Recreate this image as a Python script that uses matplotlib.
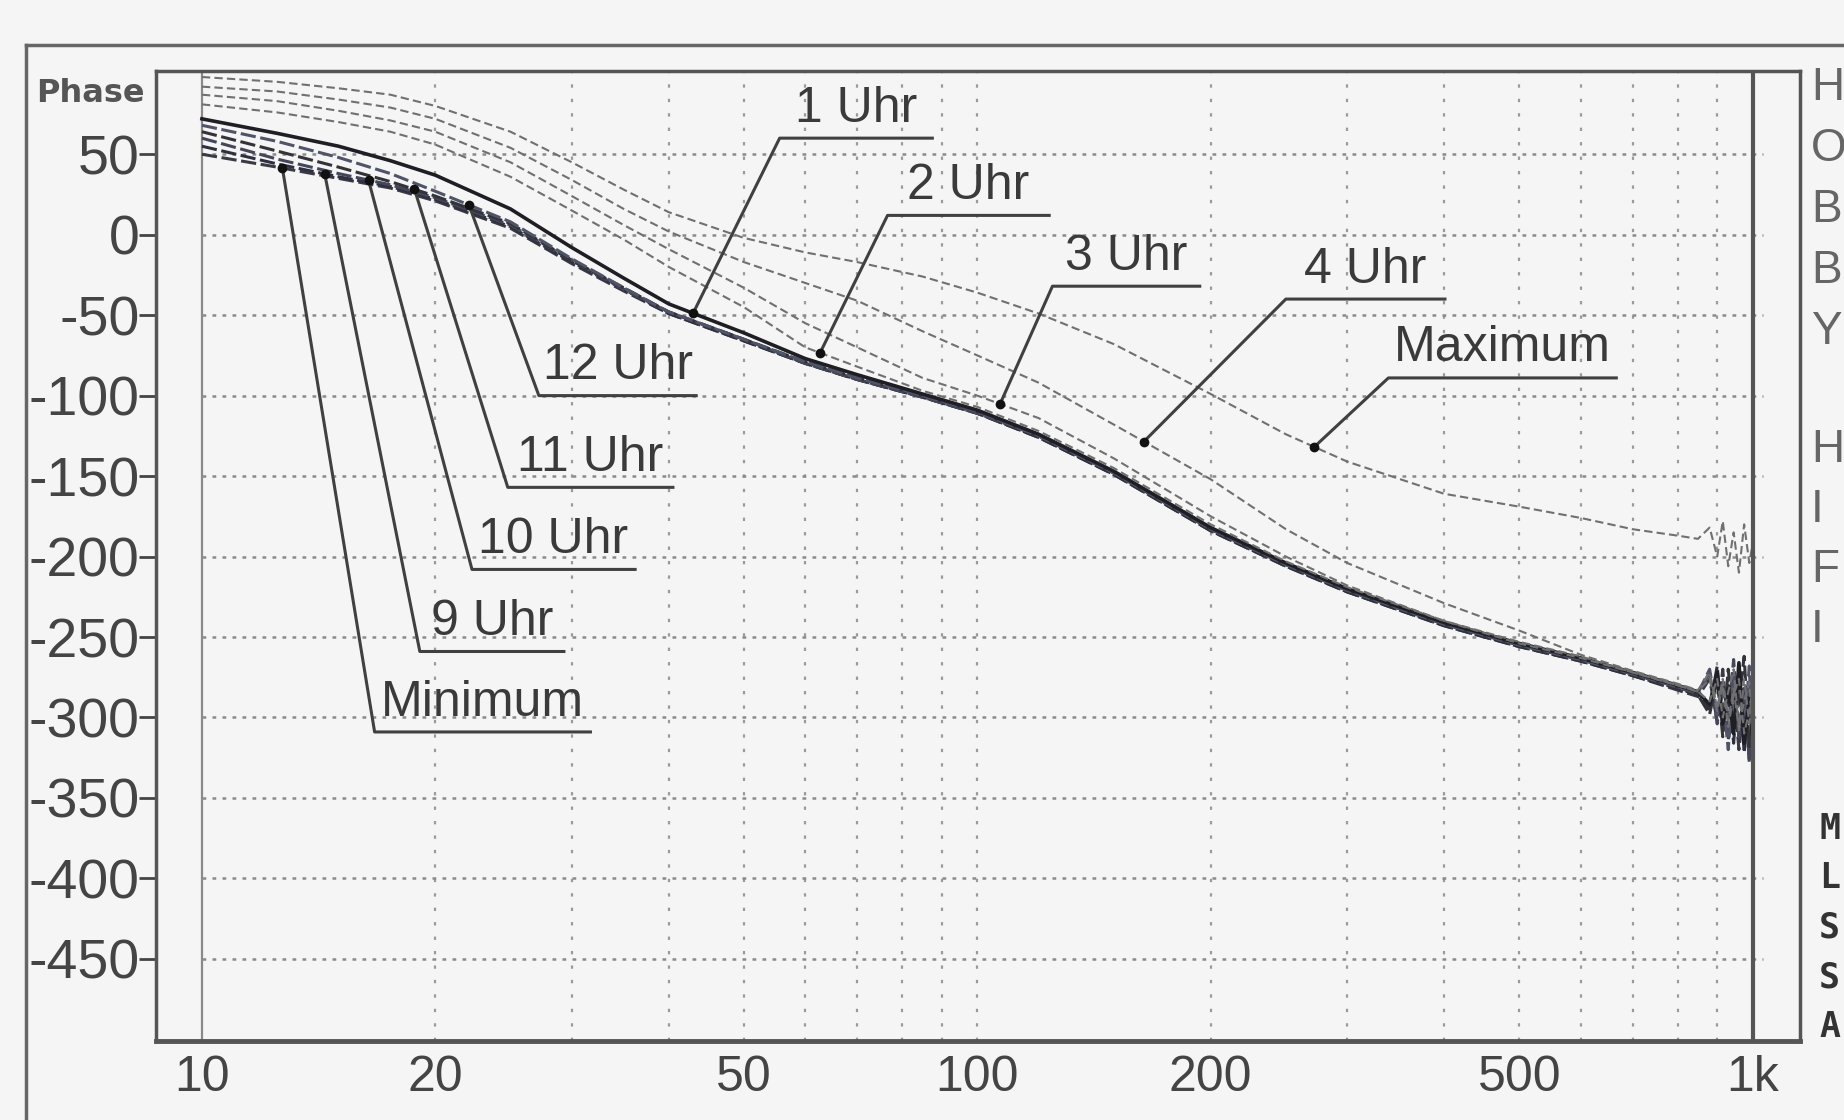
import numpy as np
import matplotlib
matplotlib.use('Agg')
import matplotlib.pyplot as plt
from matplotlib.lines import Line2D

plt.rcParams['axes.unicode_minus'] = False

# frequencies (Hz) of the read-off points
freq = [10, 12.5, 15, 17.5, 20, 25, 30, 35, 40, 50, 60, 70, 85, 100, 120, 150, 200, 250,
        300, 400, 500, 600, 700, 800, 850, 880, 900, 915, 930, 945, 960, 975, 990, 1000]

# phase in degrees, one list per knob position
ph_min = [50, 42, 35, 29, 21, 4, -18, -35, -49, -66, -80, -90, -101, -111, -126, -149, -184, -206,
          -222, -243, -256, -265, -274, -283, -287, -276, -302, -270, -314, -282, -320, -288, -326, -300]
ph_9 = [55, 44, 36, 30, 22, 5, -17, -34, -49, -66, -80, -90, -101, -111, -126, -149, -184, -206,
        -222, -243, -256, -265, -274, -282, -286, -295, -268, -308, -280, -316, -272, -322, -284, -310]
ph_10 = [60, 47, 38, 31, 23, 6, -16, -34, -48, -65, -80, -90, -101, -111, -125, -148, -183, -205,
         -221, -242, -255, -264, -273, -281, -285, -272, -304, -278, -300, -264, -312, -280, -328, -292]
ph_11 = [64, 52, 42, 33, 24, 7, -16, -33, -48, -65, -79, -89, -100, -110, -125, -148, -183, -205,
         -221, -242, -255, -264, -273, -281, -286, -298, -276, -312, -270, -305, -290, -262, -318, -300]
ph_12 = [68, 58, 48, 38, 27, 8, -15, -33, -48, -65, -79, -89, -100, -110, -125, -148, -183, -205,
         -221, -242, -255, -264, -273, -281, -285, -270, -298, -286, -320, -274, -302, -310, -268, -322]
ph_1 = [72, 63, 55, 46, 37, 16, -8, -27, -43, -61, -77, -87, -99, -109, -124, -147, -182, -204,
        -220, -241, -254, -263, -272, -280, -284, -292, -272, -304, -282, -310, -266, -316, -288, -314]
ph_2 = [81, 76, 70, 64, 56, 36, 15, -3, -20, -45, -70, -82, -97, -107, -122, -145, -180, -203,
        -219, -240, -253, -262, -272, -280, -284, -276, -296, -280, -306, -286, -276, -310, -296, -282]
ph_3 = [87, 83, 77, 71, 64, 45, 24, 6, -9, -33, -55, -70, -89, -100, -114, -139, -175, -200,
        -218, -240, -254, -263, -272, -280, -284, -290, -276, -300, -284, -270, -306, -290, -278, -312]
ph_4 = [92, 89, 84, 79, 72, 54, 34, 16, 2, -17, -30, -41, -60, -75, -92, -118, -152, -183,
        -204, -229, -246, -261, -271, -279, -283, -272, -294, -276, -302, -282, -308, -276, -304, -288]
ph_max = [98, 95, 91, 87, 80, 64, 45, 28, 14, -2, -11, -17, -26, -36, -49, -68, -99, -124,
          -141, -161, -169, -176, -183, -187, -189, -182, -200, -178, -206, -185, -210, -180, -204, -192]

names = ['Minimum', '9 Uhr', '10 Uhr', '11 Uhr', '12 Uhr', '1 Uhr', '2 Uhr', '3 Uhr', '4 Uhr', 'Maximum']
curves = [ph_min, ph_9, ph_10, ph_11, ph_12, ph_1, ph_2, ph_3, ph_4, ph_max]
# frequency where each label's pointer touches its curve
mark_freq = [12.7, 14.4, 16.4, 18.8, 22.1, 43, 62.7, 107, 164, 272]
# label underline: left end / right end (Hz) and height (deg)
lab_x0 = [16.7, 19.1, 22.3, 24.8, 27.2, 55.6, 76.6, 125, 250, 339]
lab_x1 = [31.7, 29.3, 36.2, 40.5, 43.4, 87.5, 123.8, 193.6, 401, 667]
lab_y = [-309, -259, -208, -157, -100, 60, 12, -32, -40, -89]

xticks = [10, 20, 50, 100, 200, 500, 1000]
xticklabels = ['10', '20', '50', '100', '200', '500', '1k']
yticks = list(range(-450, 51, 50))
xgrid = [20, 30, 40, 50, 60, 70, 80, 90, 100, 200, 300, 400, 500, 600, 700, 800, 900]

bg = '#f6f5f6'
fig = plt.figure(figsize=(18.44, 11.2), dpi=100, facecolor=bg)
ax = fig.add_axes([0.0847, 0.0706, 0.8913, 0.8664], facecolor=bg)
ax.set_xscale('log')
ax.set_xlim(8.73, 1150)
ax.set_ylim(-501, 102)

# grid
ax.vlines(xgrid, -501, 102, colors='#9a9a9a', linestyles=(0, (1.5, 5)), linewidth=1.6, zorder=1)
ax.hlines(yticks, 10, 1030, colors='#8a8a8a', linestyles=(0, (1.5, 2.5)), linewidth=1.8, zorder=1)
ax.axvline(10, color='#8a8a8a', lw=1.6, zorder=1)
ax.axvline(1000, color='#555555', lw=3, zorder=4)

# curves
low_cols = ['#3a3a44', '#2e3040', '#44465a', '#333338', '#505468']
for i, ph in enumerate(curves):
    if i < 5:
        ax.plot(freq, ph, color=low_cols[i], lw=2.2, ls=(0, (5, 1.5)), zorder=3)
    elif i == 5:
        ax.plot(freq, ph, color='#1e1e24', lw=2.6, zorder=3)
    else:
        ax.plot(freq, ph, color='#707070', lw=1.5, ls=(0, (4, 2)), zorder=3)

# labels with pointer lines
lf = np.log10(freq)
for i, name in enumerate(names):
    mx = mark_freq[i]
    my = np.interp(np.log10(mx), lf, curves[i])
    ax.plot([mx, lab_x0[i], lab_x1[i]], [my, lab_y[i], lab_y[i]], color='#404040', lw=2.2, zorder=5)
    ax.plot(mx, my, 'o', color='#111111', ms=6, zorder=6)
    xc = 10 ** ((np.log10(lab_x0[i]) + np.log10(lab_x1[i])) / 2)
    ax.text(xc, lab_y[i] + 4, name, ha='center', va='bottom', fontsize=36,
            family=['Liberation Sans', 'DejaVu Sans'], color='#3a3a3a', zorder=6)

# axes styling
for s in ax.spines.values():
    s.set_color('#555555')
    s.set_linewidth(2.5)
ax.spines['bottom'].set_linewidth(3.5)
ax.set_yticks(yticks)
ax.set_yticklabels([str(v) for v in yticks], fontsize=40, family=['Liberation Sans', 'DejaVu Sans'],
                   color='#444444')
ax.tick_params(axis='y', direction='out', length=12, width=2, color='#444444', pad=0)
ax.set_xticks(xticks)
ax.set_xticklabels(xticklabels, fontsize=36, family=['Liberation Sans', 'DejaVu Sans'],
                   color='#444444')
ax.xaxis.set_minor_locator(matplotlib.ticker.NullLocator())
ax.tick_params(axis='x', length=0, pad=10)

fig.text(90 / 1844, 1 - 94 / 1120, 'Phase', ha='center', va='center', fontsize=23,
         fontweight='bold', color='#555555', family='DejaVu Sans')

# outer frame
fig.add_artist(Line2D([26 / 1844, 1], [1 - 45 / 1120, 1 - 45 / 1120], color='#666666', lw=2.5))
fig.add_artist(Line2D([26 / 1844, 26 / 1844], [0, 1 - 45 / 1120], color='#666666', lw=2.5))

# side lettering
for k, ch in enumerate('HOBBY'):
    fig.text(1811 / 1844, 1 - (88 + k * 61) / 1120, ch, ha='left', va='center', fontsize=33,
             family=['Liberation Sans', 'DejaVu Sans'], color='#666666')
for k, ch in enumerate('HIFI'):
    fig.text(1811 / 1844, 1 - (450 + k * 60) / 1120, ch, ha='left', va='center', fontsize=33,
             family=['Liberation Sans', 'DejaVu Sans'], color='#666666')
for k, ch in enumerate('MLSSA'):
    fig.text(1819 / 1844, 1 - (829 + k * 49.5) / 1120, ch, ha='left', va='center', fontsize=25,
             family='DejaVu Sans Mono', fontweight='bold', color='#333333')

fig.savefig('out.png', dpi=100, facecolor=bg)
